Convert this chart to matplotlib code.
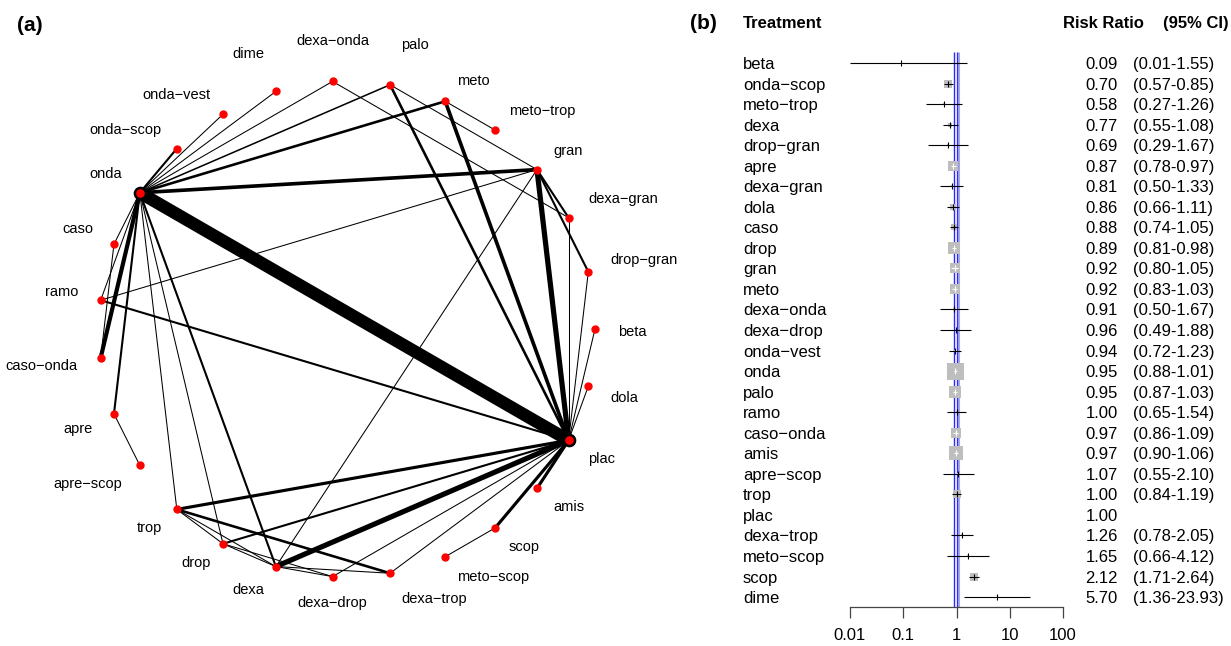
import numpy as np
import matplotlib
matplotlib.use('Agg')
import matplotlib.pyplot as plt
from matplotlib import transforms

plt.rcParams['font.family'] = ['Liberation Sans', 'DejaVu Sans']

# (a) network: treatments in the order they sit round the circle (from 3 o'clock, anticlockwise)
nodes = ['beta', 'drop-gran', 'dexa-gran', 'gran', 'meto-trop', 'meto', 'palo',
         'dexa-onda', 'dime', 'onda-vest', 'onda-scop', 'onda', 'caso', 'ramo',
         'caso-onda', 'apre', 'apre-scop', 'trop', 'drop', 'dexa', 'dexa-drop',
         'dexa-trop', 'meto-scop', 'scop', 'amis', 'plac', 'dola']

# direct comparisons and number of studies (line thickness)
edge_a = ['onda', 'dexa', 'gran', 'onda', 'onda', 'meto', 'trop', 'amis', 'scop',
          'onda', 'palo', 'trop', 'drop', 'ramo', 'onda', 'onda', 'onda', 'gran', 'gran',
          'onda', 'onda', 'onda', 'onda', 'onda', 'onda', 'caso', 'onda', 'onda',
          'apre', 'ramo', 'palo', 'meto', 'dexa-onda', 'dexa-gran', 'drop-gran', 'beta',
          'dola', 'gran', 'trop', 'trop', 'drop', 'drop', 'dexa', 'dexa', 'dexa-drop',
          'dexa-trop', 'scop']
edge_b = ['plac', 'plac', 'plac', 'caso-onda', 'gran', 'plac', 'plac', 'plac', 'plac',
          'meto', 'plac', 'dexa-trop', 'plac', 'plac', 'dexa', 'apre', 'onda-scop',
          'dexa-gran', 'drop-gran',
          'palo', 'dexa-onda', 'dime', 'onda-vest', 'caso', 'ramo', 'caso-onda', 'trop',
          'drop', 'apre-scop', 'gran', 'gran', 'meto-trop', 'dexa-gran', 'plac', 'plac',
          'plac', 'plac', 'dexa', 'drop', 'dexa', 'dexa', 'dexa-drop', 'dexa-drop',
          'dexa-trop', 'plac', 'plac', 'meto-scop']
edge_n = [12, 5, 5, 4, 3.5, 3.5, 3, 3, 3,
          2.5, 2.5, 2.5, 2, 2, 2, 2, 2, 2, 2,
          1.5, 1, 1, 1, 1, 1, 1, 1, 1,
          1, 1, 1, 1, 1, 1, 1, 1,
          1, 1, 1, 1, 1, 1, 1, 1, 1,
          1, 1]
big_nodes = ['onda', 'plac']

# (b) forest plot, risk ratio vs placebo
treatments = ['beta', 'onda-scop', 'meto-trop', 'dexa', 'drop-gran', 'apre', 'dexa-gran',
              'dola', 'caso', 'drop', 'gran', 'meto', 'dexa-onda', 'dexa-drop',
              'onda-vest', 'onda', 'palo', 'ramo', 'caso-onda', 'amis', 'apre-scop',
              'trop', 'plac', 'dexa-trop', 'meto-scop', 'scop', 'dime']
rr = [0.09, 0.70, 0.58, 0.77, 0.69, 0.87, 0.81, 0.86, 0.88, 0.89, 0.92, 0.92, 0.91,
      0.96, 0.94, 0.95, 0.95, 1.00, 0.97, 0.97, 1.07, 1.00, 1.00, 1.26, 1.65, 2.12, 5.70]
ci_lo = [0.01, 0.57, 0.27, 0.55, 0.29, 0.78, 0.50, 0.66, 0.74, 0.81, 0.80, 0.83, 0.50,
         0.49, 0.72, 0.88, 0.87, 0.65, 0.86, 0.90, 0.55, 0.84, None, 0.78, 0.66, 1.71, 1.36]
ci_hi = [1.55, 0.85, 1.26, 1.08, 1.67, 0.97, 1.33, 1.11, 1.05, 0.98, 1.05, 1.03, 1.67,
         1.88, 1.23, 1.01, 1.03, 1.54, 1.09, 1.06, 2.10, 1.19, None, 2.05, 4.12, 2.64, 23.93]
weight = [0.3, 17, 3, 5.5, 1.4, 38, 2, 10, 12, 58, 30, 35, 1.4,
          1.4, 3, 100, 58, 3, 35, 68, 1.4, 17, 0, 3, 1.4, 17, 0.8]
ticks = [0.01, 0.1, 1, 10, 100]


def pretty(s):
    return s.replace('-', '\u2212')


W, H = 1231, 646
fig = plt.figure(figsize=(W / 100, H / 100), dpi=100)

# ---------------- (a) network graph
ax1 = fig.add_axes([0, 0, 690 / W, 1])
ax1.set_xlim(0, 690)
ax1.set_ylim(H, 0)
ax1.axis('off')

cx, cy, r = 347, 329, 248
ang = np.deg2rad(np.arange(len(nodes)) * 360.0 / len(nodes))
nx = cx + r * np.cos(ang)
ny = cy - r * np.sin(ang)
pos = {n: (nx[i], ny[i]) for i, n in enumerate(nodes)}

for a, b, n in zip(edge_a, edge_b, edge_n):
    ax1.plot([pos[a][0], pos[b][0]], [pos[a][1], pos[b][1]], color='black',
             lw=n * 0.75, solid_capstyle='butt', zorder=1)

for i, n in enumerate(nodes):
    if n in big_nodes:
        ax1.plot(nx[i], ny[i], 'o', ms=8, color='red', mec='black', mew=1.8, zorder=3)
    else:
        ax1.plot(nx[i], ny[i], 'o', ms=5, color='red', mec='red', zorder=3)
    c, s = np.cos(ang[i]), np.sin(ang[i])
    # labels sit off the node, left/right justified by side of the circle
    if abs(c) < 0.1:
        ha, dx = 'center', 0
    else:
        ha = 'left' if c > 0 else 'right'
        dx = np.sign(c) * (11 + 12 * abs(c) ** 3)
    if abs(s) > 0.01:
        off = 5 + 14 * min(1, abs(s) / 0.45) + 8 * max(0, (abs(s) - 0.9) / 0.1)
        if s > 0.95:
            off += 14
        dyl = -np.sign(s) * off
    else:
        dyl = 3
    ax1.text(nx[i] + dx, ny[i] + dyl, pretty(n), ha=ha, va='center', fontsize=10.5)

fig.text(17 / W, 1 - 31 / H, '(a)', fontsize=15, fontweight='bold', va='baseline')
fig.text(690 / W, 1 - 29 / H, '(b)', fontsize=15, fontweight='bold', va='baseline')

# ---------------- (b) forest plot
row0, dy = 63, 20.54
ax2 = fig.add_axes([850 / W, (H - 607) / H, 213 / W, 562 / H])
ax2.set_xscale('log')
ax2.set_xlim(0.01, 100)
ybot, ytop = (607 - row0) / dy, (45 - row0) / dy
ax2.set_ylim(ybot, ytop)
for s in ['top', 'left', 'right']:
    ax2.spines[s].set_visible(False)
ax2.spines['bottom'].set_color('#444444')
ax2.spines['bottom'].set_linewidth(0.9)
ax2.set_yticks([])
ax2.set_xticks(ticks)
ax2.set_xticklabels(['0.01', '0.1', '1', '10', '100'])
ax2.minorticks_off()
ax2.tick_params(axis='x', length=8, width=0.9, color='#444444', pad=7, labelsize=12)

# reference / summary lines
vtop = (52 - row0) / dy
ax2.vlines(1.08, vtop, ybot, color='#a8a8e8', lw=2.2, zorder=1)
ax2.vlines(0.915, vtop, ybot, color='#2a2aff', lw=1.0, zorder=1)
ax2.vlines(1.0, vtop, ybot, color='#3030ff', lw=0.9, zorder=1)

px_dec = 213 / 4.0
for i in range(len(treatments)):
    lo, hi, est = ci_lo[i], ci_hi[i], rr[i]
    if lo is None:
        continue
    box_px = 17 * np.sqrt(weight[i] / 100.0)
    if box_px > 1.5:
        ax2.plot(est, i, marker='s', ms=box_px * 0.72, color='#bebebe', mec='#bebebe',
                 mew=0, zorder=2)
    half = box_px / 2 / px_dec
    inside = (np.log10(hi / est) <= half) and (np.log10(est / lo) <= half)
    col = 'white' if inside else 'black'
    ax2.hlines(i, lo, hi, color=col, lw=0.8, zorder=3, clip_on=False)
    ax2.plot(est, i, marker='|', ms=4, mew=0.8, color=col, zorder=3)

tr = transforms.blended_transform_factory(fig.transFigure, ax2.transData)
for i, t in enumerate(treatments):
    yb = i + 6 / dy
    ax2.text(743 / W, yb, pretty(t), transform=tr, ha='left', va='baseline', fontsize=12)
    ax2.text(1118 / W, yb, '%.2f' % rr[i], transform=tr, ha='right', va='baseline', fontsize=12)
    if ci_lo[i] is not None:
        ax2.text(1133 / W, yb, '(%.2f-%.2f)' % (ci_lo[i], ci_hi[i]), transform=tr,
                 ha='left', va='baseline', fontsize=12)

fig.text(743 / W, 1 - 28 / H, 'Treatment', fontsize=12, fontweight='bold', va='baseline')
fig.text(1063 / W, 1 - 28 / H, 'Risk Ratio', fontsize=12, fontweight='bold', va='baseline')
fig.text(1163 / W, 1 - 28 / H, '(95% CI)', fontsize=12, fontweight='bold', va='baseline')

fig.savefig('out.png', dpi=100)
